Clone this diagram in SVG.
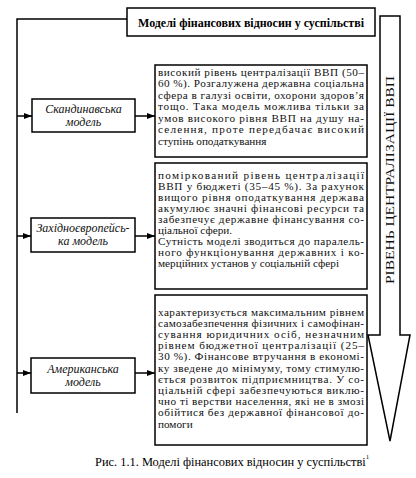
<svg xmlns="http://www.w3.org/2000/svg" width="416" height="478" viewBox="0 0 416 478">
<style>
.box{fill:#fff;stroke:#000;stroke-width:1.5}
.t{font-family:"Liberation Serif","Times New Roman",serif;font-size:11.2px;fill:#111}
.m{font-family:"Liberation Serif","Times New Roman",serif;font-size:12px;font-style:italic;fill:#111;text-anchor:middle}
.ttl{font-family:"Liberation Serif","Times New Roman",serif;font-size:13px;font-weight:bold;fill:#000}
.cap{font-family:"Liberation Serif","Times New Roman",serif;font-size:12.4px;fill:#000}
.ln{fill:none;stroke:#000;stroke-width:1.5}
</style>
<defs>
<marker id="ah" viewBox="0 0 8 6" refX="8" refY="3" markerWidth="8" markerHeight="6" markerUnits="userSpaceOnUse" orient="auto">
<path d="M0,0 L8,3 L0,6 Z" fill="#000"/>
</marker>
</defs>
<rect width="416" height="478" fill="#fff"/>

<g id="connectors">
<polyline class="ln" points="127,19 17,19 17,413"/>
<line class="ln" x1="17" y1="116" x2="32" y2="116" marker-end="url(#ah)"/>
<line class="ln" x1="135" y1="116" x2="155" y2="116" marker-end="url(#ah)"/>
<line class="ln" x1="17" y1="236" x2="31" y2="236" marker-end="url(#ah)"/>
<line class="ln" x1="135" y1="236" x2="155" y2="236" marker-end="url(#ah)"/>
<line class="ln" x1="17" y1="373" x2="31" y2="373" marker-end="url(#ah)"/>
<line class="ln" x1="135" y1="373" x2="155" y2="373" marker-end="url(#ah)"/>
</g>

<g id="title">
<rect class="box" x="127" y="8" width="248" height="28"/>
<text class="ttl" x="138" y="27" textLength="226" lengthAdjust="spacingAndGlyphs">Моделі фінансових відносин у суспільстві</text>
</g>

<g id="level-arrow">
<polygon class="box" points="380,16 400,16 400,335 410,335 390,441 368,335 380,335"/>
<text class="t" style="font-size:12px" transform="translate(394,180) rotate(-90)" text-anchor="middle" textLength="208" lengthAdjust="spacingAndGlyphs">РІВЕНЬ ЦЕНТРАЛІЗАЦІЇ ВВП</text>
</g>

<g id="scandinavian">
<rect class="box" x="32" y="99" width="103" height="33"/>
<text class="m" x="83.5" y="113">Скандинавська</text>
<text class="m" x="83.5" y="126">модель</text>
</g>

<g id="scandinavian-desc">
<rect class="box" x="155" y="65" width="212" height="92"/>
<text class="t" x="158" y="75.5" textLength="206" lengthAdjust="spacing">високий рівень централізації ВВП (50–</text>
<text class="t" x="158" y="87" textLength="206" lengthAdjust="spacing">60 %). Розгалужена державна соціальна</text>
<text class="t" x="158" y="98.5" textLength="206" lengthAdjust="spacing">сфера в галузі освіти, охорони здоров’я</text>
<text class="t" x="158" y="110" textLength="206" lengthAdjust="spacing">тощо. Така модель можлива тільки за</text>
<text class="t" x="158" y="121.5" textLength="206" lengthAdjust="spacing">умов високого рівня ВВП на душу на-</text>
<text class="t" x="158" y="133" textLength="206" lengthAdjust="spacing">селення, проте передбачає високий</text>
<text class="t" x="158" y="144.5">ступінь оподаткування</text>
</g>

<g id="western">
<rect class="box" x="31" y="218" width="104" height="34"/>
<text class="m" x="83" y="232">Західноєвропейсь-</text>
<text class="m" x="83" y="245">ка модель</text>
</g>

<g id="western-desc">
<rect class="box" x="155" y="163" width="212" height="126"/>
<text class="t" x="158" y="178.5" textLength="206" lengthAdjust="spacing">поміркований рівень централізації</text>
<text class="t" x="158" y="189.5" textLength="206" lengthAdjust="spacing">ВВП у бюджеті (35–45 %). За рахунок</text>
<text class="t" x="158" y="200.5" textLength="206" lengthAdjust="spacing">вищого рівня оподаткування держава</text>
<text class="t" x="158" y="211.5" textLength="206" lengthAdjust="spacing">акумулює значні фінансові ресурси та</text>
<text class="t" x="158" y="222.5" textLength="206" lengthAdjust="spacing">забезпечує державне фінансування со-</text>
<text class="t" x="158" y="233.5">ціальної сфери.</text>
<text class="t" x="158" y="244.5" textLength="206" lengthAdjust="spacing">Сутність моделі зводиться до паралель-</text>
<text class="t" x="158" y="255.5" textLength="206" lengthAdjust="spacing">ного функціонування державних і ко-</text>
<text class="t" x="158" y="266.5">мерційних установ у соціальній сфері</text>
</g>

<g id="american">
<rect class="box" x="31" y="358" width="104" height="35"/>
<text class="m" x="83" y="373">Американська</text>
<text class="m" x="83" y="386">модель</text>
</g>

<g id="american-desc">
<rect class="box" x="155" y="295" width="212" height="150"/>
<text class="t" x="158" y="315.5" textLength="206" lengthAdjust="spacing">характеризується максимальним рівнем</text>
<text class="t" x="158" y="326.7" textLength="206" lengthAdjust="spacing">самозабезпечення фізичних і самофінан-</text>
<text class="t" x="158" y="337.9" textLength="206" lengthAdjust="spacing">сування юридичних осіб, незначним</text>
<text class="t" x="158" y="349.1" textLength="206" lengthAdjust="spacing">рівнем бюджетної централізації (25–</text>
<text class="t" x="158" y="360.3" textLength="206" lengthAdjust="spacing">30 %). Фінансове втручання в економі-</text>
<text class="t" x="158" y="371.5" textLength="206" lengthAdjust="spacing">ку зведене до мінімуму, тому стимулю-</text>
<text class="t" x="158" y="382.7" textLength="206" lengthAdjust="spacing">ється розвиток підприємництва. У со-</text>
<text class="t" x="158" y="393.9" textLength="206" lengthAdjust="spacing">ціальній сфері забезпечуються виклю-</text>
<text class="t" x="158" y="405.1" textLength="206" lengthAdjust="spacing">чно ті верстви населення, які не в змозі</text>
<text class="t" x="158" y="416.3" textLength="206" lengthAdjust="spacing">обійтися без державної фінансової до-</text>
<text class="t" x="158" y="427.5">помоги</text>
</g>

<g id="caption">
<text class="cap" x="95" y="466">Рис. 1.1. Моделі фінансових відносин у суспільстві<tspan dy="-7" style="font-size:7px">1</tspan></text>
</g>
</svg>
